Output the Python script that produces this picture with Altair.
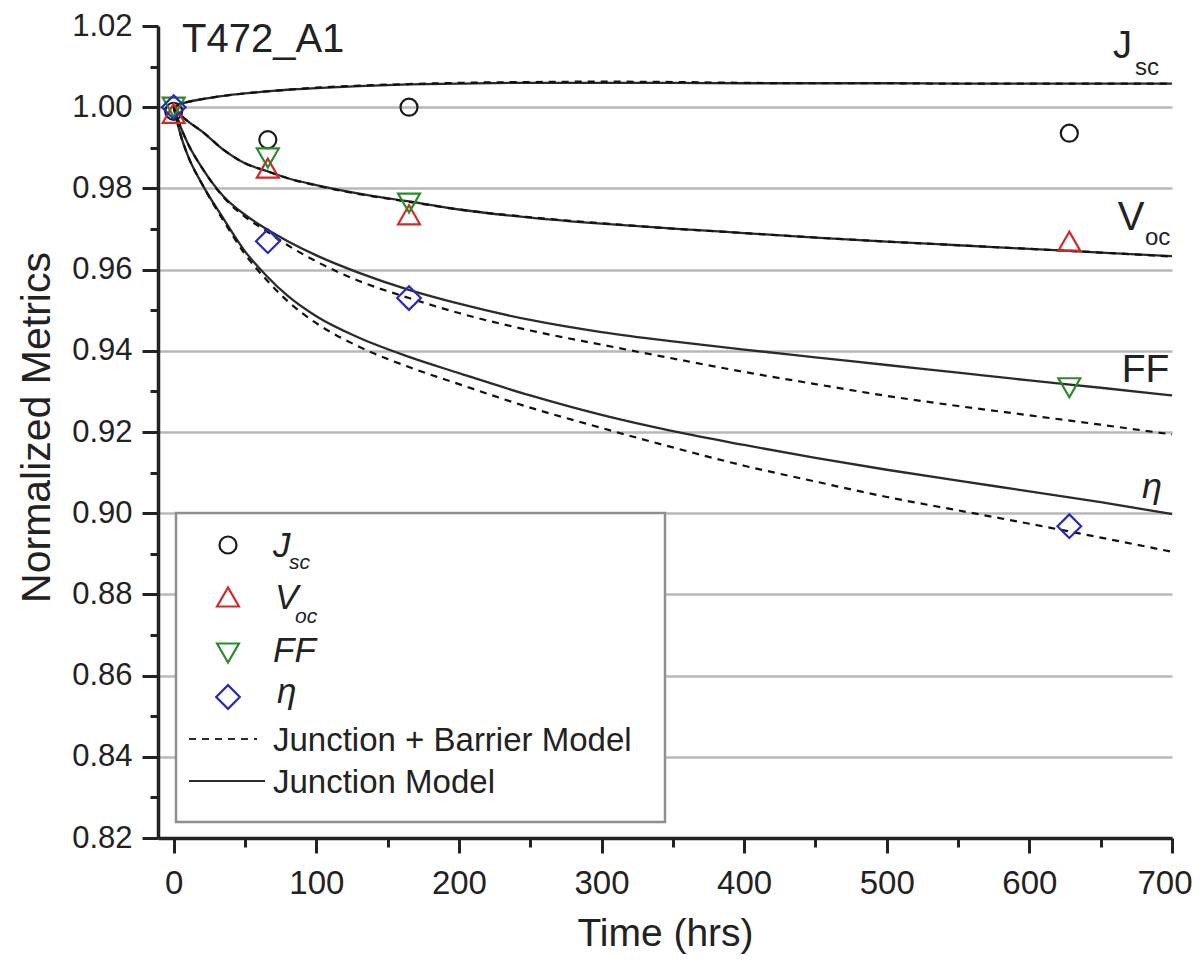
import altair as alt
import pandas as pd

FONT = "Liberation Sans"
INK = "#222222"

# ---------------- data ----------------
metrics = ["Jsc", "Voc", "FF", "eta"]

marker_times = [0, 66, 165, 628]
jsc_measured = [0.9990, 0.9920, 1.0000, 0.9936]
voc_measured = [0.9985, 0.9850, 0.9735, 0.9670]
ff_measured = [1.0000, 0.9875, 0.9764, 0.9309]
eta_measured = [1.0000, 0.9670, 0.9530, 0.8968]

model_times = [0, 5, 10, 20, 35, 50, 65, 80, 100, 130, 165, 200, 250, 300,
               350, 400, 450, 500, 550, 600, 650, 700]

jsc_junction = [1.0000, 1.0008, 1.0013, 1.0020, 1.0028, 1.0034, 1.0039, 1.0043,
                1.0047, 1.0052, 1.0056, 1.0058, 1.0060, 1.0060, 1.0060, 1.0059,
                1.0059, 1.0059, 1.0058, 1.0058, 1.0058, 1.0058]
jsc_barrier = [1.0000, 1.0008, 1.0013, 1.0020, 1.0028, 1.0034, 1.0039, 1.0043,
               1.0048, 1.0053, 1.0057, 1.0060, 1.0062, 1.0063, 1.0062, 1.0060,
               1.0059, 1.0059, 1.0058, 1.0058, 1.0058, 1.0058]
voc_junction = [1.0000, 0.9980, 0.9965, 0.9940, 0.9895, 0.9862, 0.9843, 0.9825,
                0.9808, 0.9787, 0.9768, 0.9748, 0.9728, 0.9713, 0.9701, 0.9690,
                0.9679, 0.9669, 0.9660, 0.9651, 0.9642, 0.9633]
voc_barrier = [1.0000, 0.9980, 0.9965, 0.9940, 0.9895, 0.9862, 0.9843, 0.9825,
               0.9807, 0.9786, 0.9767, 0.9748, 0.9729, 0.9714, 0.9701, 0.9690,
               0.9679, 0.9669, 0.9660, 0.9651, 0.9642, 0.9632]
ff_junction = [1.0000, 0.9950, 0.9910, 0.9850, 0.9780, 0.9735, 0.9700, 0.9670,
               0.9635, 0.9592, 0.9550, 0.9516, 0.9476, 0.9446, 0.9423, 0.9403,
               0.9384, 0.9365, 0.9346, 0.9327, 0.9309, 0.9290]
ff_barrier = [1.0000, 0.9950, 0.9910, 0.9850, 0.9778, 0.9730, 0.9695, 0.9660,
              0.9620, 0.9572, 0.9530, 0.9493, 0.9450, 0.9415, 0.9381, 0.9348,
              0.9318, 0.9289, 0.9264, 0.9241, 0.9218, 0.9194]
eta_junction = [1.0000, 0.9930, 0.9880, 0.9810, 0.9725, 0.9645, 0.9585, 0.9535,
                0.9485, 0.9432, 0.9385, 0.9345, 0.9290, 0.9242, 0.9202, 0.9168,
                0.9136, 0.9107, 0.9080, 0.9054, 0.9027, 0.8998]
eta_barrier = [1.0000, 0.9930, 0.9880, 0.9810, 0.9720, 0.9638, 0.9575, 0.9522,
               0.9468, 0.9410, 0.9360, 0.9318, 0.9260, 0.9210, 0.9162, 0.9117,
               0.9078, 0.9040, 0.9007, 0.8974, 0.8940, 0.8905]

x_major = [0, 100, 200, 300, 400, 500, 600, 700]
x_minor = [50, 150, 250, 350, 450, 550, 650]
y_major = [0.82, 0.84, 0.86, 0.88, 0.90, 0.92, 0.94, 0.96, 0.98, 1.00, 1.02]
y_minor = [0.83, 0.85, 0.87, 0.89, 0.91, 0.93, 0.95, 0.97, 0.99, 1.01]

# ---------------- tables ----------------
measured = {"Jsc": jsc_measured, "Voc": voc_measured, "FF": ff_measured, "eta": eta_measured}
junction = {"Jsc": jsc_junction, "Voc": voc_junction, "FF": ff_junction, "eta": eta_junction}
barrier = {"Jsc": jsc_barrier, "Voc": voc_barrier, "FF": ff_barrier, "eta": eta_barrier}

rows = []
for m in metrics:
    for t, v in zip(model_times, junction[m]):
        rows.append({"t": t, "v": v, "metric": m, "model": "Junction Model"})
    for t, v in zip(model_times, barrier[m]):
        rows.append({"t": t, "v": v, "metric": m, "model": "Junction + Barrier Model"})
lines_df = pd.DataFrame(rows)

XS = alt.Scale(domain=[-11, 700], nice=False, zero=False)
YS = alt.Scale(domain=[0.82, 1.02], nice=False, zero=False)

def xq(axis=None):
    return alt.X("t:Q", scale=XS, axis=axis)

def yq(axis=None):
    return alt.Y("v:Q", scale=YS, axis=axis)

x_axis = alt.Axis(values=x_major, format="d", orient="bottom", tickSize=15, tickWidth=3,
                  tickColor=INK, domainColor=INK, domainWidth=3.5,
                  labelFont=FONT, labelFontSize=33, labelColor=INK,
                  labelBaseline="alphabetic", labelPadding=40,
                  labelFlush=True, labelFlushOffset=20,
                  grid=False, title="Time (hrs)", titleFont=FONT, titleFontSize=39,
                  titleFontWeight="normal", titleColor=INK, titleX=507, titleY=107,
                  titleAlign="center", titleBaseline="alphabetic")
y_axis = alt.Axis(values=y_major, format=".2f", orient="left", tickSize=16, tickWidth=3,
                  tickColor=INK, domainColor=INK, domainWidth=3.5,
                  labelFont=FONT, labelFontSize=31, labelColor=INK, labelPadding=10,
                  labelFlush=False,
                  grid=True, gridWidth=2.5,
                  gridColor={"condition": {"test": "datum.value > 1.01", "value": "transparent"},
                             "value": "#b8b8b8"},
                  title="Normalized Metrics", titleFont=FONT, titleFontSize=41,
                  titleFontWeight="normal", titleColor=INK, titleAngle=270,
                  titleX=-121, titleY=401, titleAlign="center", titleBaseline="middle")

x_minor_axis = alt.Axis(values=x_minor, orient="bottom", tickSize=9, tickWidth=3,
                        tickColor=INK, labels=False, domain=False, grid=False, title=None)
y_minor_axis = alt.Axis(values=y_minor, orient="left", tickSize=8, tickWidth=3,
                        tickColor=INK, labels=False, domain=False, grid=False, title=None)

LINE_COLOR = "#2b2b2b"

solid = alt.Chart(lines_df).transform_filter(alt.datum.model == "Junction Model").mark_line(
    color=LINE_COLOR, strokeWidth=2.3, interpolate="monotone"
).encode(x=xq(x_axis), y=yq(y_axis), detail="metric:N", order="t:Q")

dashed = alt.Chart(lines_df).transform_filter(alt.datum.model == "Junction + Barrier Model").mark_line(
    color="#111111", strokeWidth=2.2, strokeDash=[7, 6], interpolate="monotone"
).encode(x=xq(), y=yq(), detail="metric:N", order="t:Q")

minor = alt.Chart(pd.DataFrame({"t": marker_times, "v": jsc_measured})).mark_point(
    opacity=0
).encode(x=xq(x_minor_axis), y=yq(y_minor_axis))

styles = {
    "Jsc": dict(shape="circle", size=290, color="#1a1a1a"),
    "Voc": dict(shape="triangle-up", size=480, color="#d02a2a"),
    "FF": dict(shape="triangle-down", size=480, color="#2c8a2c"),
    "eta": dict(shape="diamond", size=560, color="#2a2ab8"),
}

point_layers = []
for m in metrics:
    df = pd.DataFrame({"t": marker_times, "v": measured[m]})
    st = styles[m]
    point_layers.append(
        alt.Chart(df).mark_point(shape=st["shape"], size=st["size"], color=st["color"],
                                 filled=False, strokeWidth=2.2, opacity=1)
        .encode(x=xq(), y=yq())
    )

# ---------------- annotations placed in data coordinates ----------------
def note(text, t, v, size, italic=False):
    return alt.Chart(pd.DataFrame({"t": [t], "v": [v], "s": [text]})).mark_text(
        align="left", baseline="alphabetic", font=FONT, fontSize=size, color=INK,
        fontStyle="italic" if italic else "normal"
    ).encode(x=xq(), y=yq(), text="s:N")

notes = [
    note("T472_A1", 5.8, 1.0136, 40),
    note("J", 658.6, 1.0122, 38),
    note("sc", 674.0, 1.0080, 24),
    note("V", 662.0, 0.9697, 40),
    note("oc", 681.0, 0.9660, 24),
    note("FF", 664.8, 0.9324, 39),
    note("η", 678.9, 0.9037, 36, italic=True),
]

# ---------------- legend (drawn in the plot's pixel frame) ----------------
one = pd.DataFrame({"a": [0]})
DY = -4  # plot frame starts 4px lower than the reference's 1.02 line

legend_box = alt.Chart(one).mark_rect(fill="white", stroke="#8f8f8f", strokeWidth=2.5).encode(
    x=alt.value(18), x2=alt.value(507), y=alt.value(491 + DY), y2=alt.value(800 + DY)
)

def lg_marker(m, py):
    st = styles[m]
    return alt.Chart(one).mark_point(shape=st["shape"], size=st["size"], color=st["color"],
                                     filled=False, strokeWidth=2.2, opacity=1).encode(
        x=alt.value(70), y=alt.value(py + DY))

def lg_text(text, px, py, size, italic=False):
    return alt.Chart(one).mark_text(align="left", baseline="alphabetic", font=FONT,
                                    fontSize=size, color=INK,
                                    fontStyle="italic" if italic else "normal",
                                    text=text).encode(x=alt.value(px), y=alt.value(py + DY))

def lg_line(x1, x2, py, dash):
    mk = dict(color=LINE_COLOR, strokeWidth=2.2)
    if dash:
        mk["strokeDash"] = dash
    return alt.Chart(one).mark_rule(**mk).encode(
        x=alt.value(x1), x2=alt.value(x2), y=alt.value(py + DY))

legend_layers = [
    legend_box,
    lg_marker("Jsc", 523), lg_marker("Voc", 575), lg_marker("FF", 631), lg_marker("eta", 675),
    lg_text("J", 115, 535, 35, True), lg_text("sc", 131, 547, 21, True),
    lg_text("V", 117, 587, 35, True), lg_text("oc", 137, 601, 21, True),
    lg_text("FF", 115, 640, 35, True),
    lg_text("η", 119, 681, 35, True),
    lg_line(31, 99, 717, [7, 6]),
    lg_text("Junction + Barrier Model", 115, 729, 33),
    lg_line(31, 107, 759, None),
    lg_text("Junction Model", 115, 771, 33),
]

chart = alt.layer(
    solid, dashed, minor, *point_layers, *notes, *legend_layers
).resolve_axis(
    x="independent", y="independent"
).properties(
    width=1014, height=812,
    autosize=alt.AutoSizeParams(type="none"),
    padding={"left": 150, "top": 18, "right": 22, "bottom": 117},
    background="white",
).configure_view(stroke=None)

chart.save("out.html", embed_options={"renderer": "svg", "actions": False})
